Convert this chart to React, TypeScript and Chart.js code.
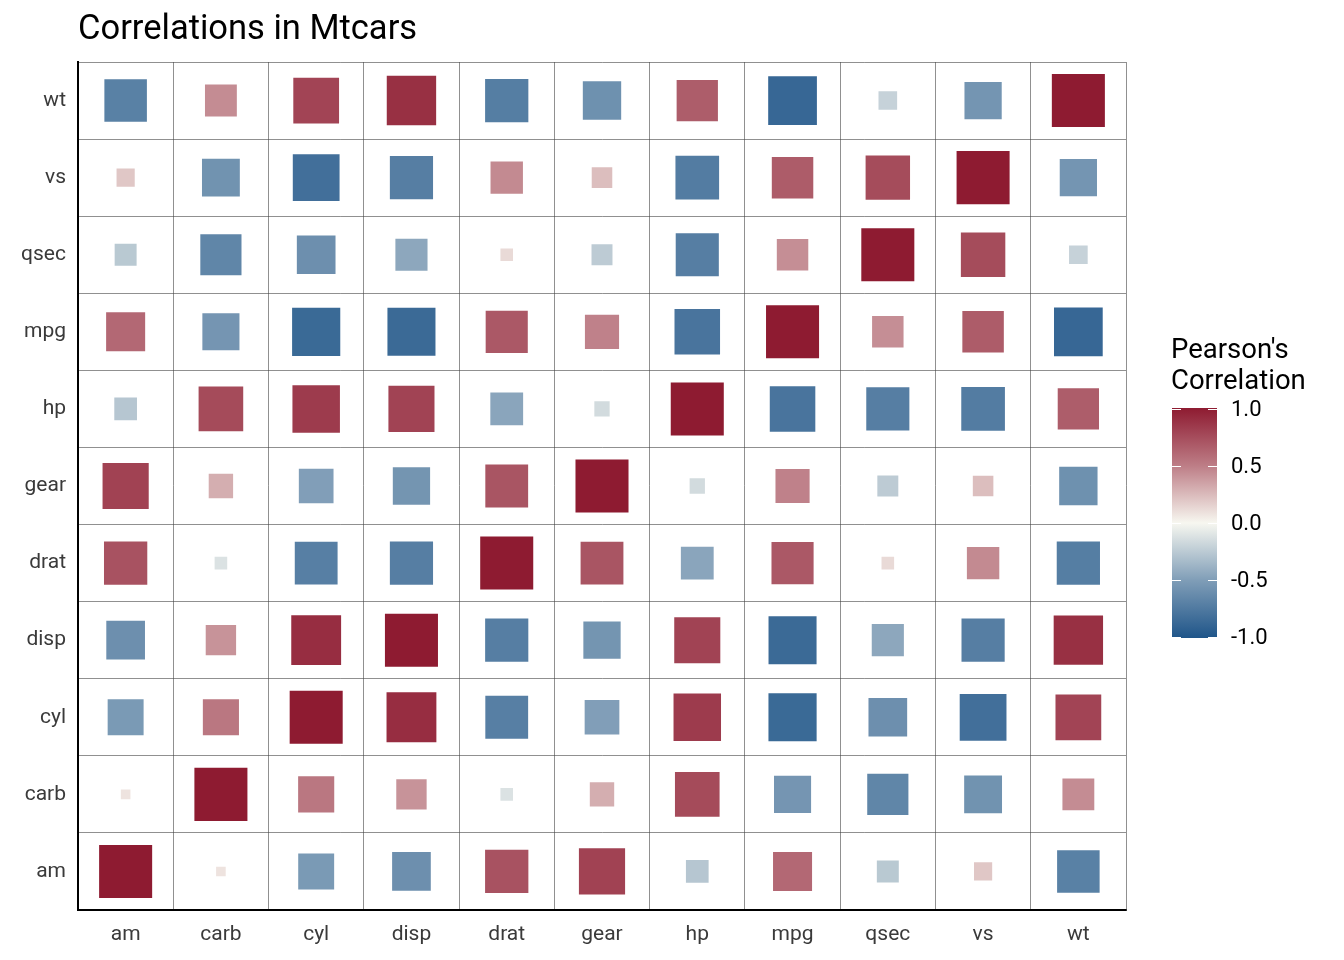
import React, { useEffect, useRef } from 'react';
import { Chart, registerables } from 'chart.js';

Chart.register(...registerables);

const vars = ['am', 'carb', 'cyl', 'disp', 'drat', 'gear', 'hp', 'mpg', 'qsec', 'vs', 'wt'];

// Pearson correlations, rows/cols in the order of `vars`
const corr: number[][] = [
  [1, 0.058, -0.523, -0.591, 0.713, 0.794, -0.243, 0.6, -0.23, 0.168, -0.692],
  [0.058, 1, 0.527, 0.395, -0.091, 0.274, 0.75, -0.551, -0.656, -0.57, 0.428],
  [-0.523, 0.527, 1, 0.902, -0.7, -0.493, 0.832, -0.852, -0.591, -0.811, 0.782],
  [-0.591, 0.395, 0.902, 1, -0.71, -0.556, 0.791, -0.848, -0.434, -0.71, 0.888],
  [0.713, -0.091, -0.7, -0.71, 1, 0.7, -0.449, 0.681, 0.091, 0.44, -0.712],
  [0.794, 0.274, -0.493, -0.556, 0.7, 1, -0.126, 0.48, -0.213, 0.206, -0.583],
  [-0.243, 0.75, 0.832, 0.791, -0.449, -0.126, 1, -0.776, -0.708, -0.723, 0.659],
  [0.6, -0.551, -0.852, -0.848, 0.681, 0.48, -0.776, 1, 0.419, 0.664, -0.868],
  [-0.23, -0.656, -0.591, -0.434, 0.091, -0.213, -0.708, 0.419, 1, 0.745, -0.175],
  [0.168, -0.57, -0.811, -0.71, 0.44, 0.206, -0.723, 0.664, 0.745, 1, -0.555],
  [-0.692, 0.428, 0.782, 0.888, -0.712, -0.583, 0.659, -0.868, -0.175, -0.555, 1],
];

const legendTicks = ['1.0', '0.5', '0.0', '-0.5', '-1.0'];

const LOW = [31, 85, 137];
const MID = [247, 247, 240];
const HIGH = [142, 27, 49];

function colorFor(r: number) {
  const t = Math.pow(Math.min(1, Math.abs(r)), 0.85);
  const end = r < 0 ? LOW : HIGH;
  const c = MID.map((m, i) => Math.round(m + (end[i] - m) * t));
  return `rgb(${c[0]},${c[1]},${c[2]})`;
}

const FONT = 'Roboto, "Noto Sans", sans-serif';

export default function App() {
  const canvasRef = useRef<HTMLCanvasElement | null>(null);

  useEffect(() => {
    const canvas = canvasRef.current;
    if (!canvas) return;
    const points: { x: string; y: string; r: number }[] = [];
    vars.forEach((xv, i) => vars.forEach((yv, j) => points.push({ x: xv, y: yv, r: corr[i][j] })));
    const chart = new Chart(canvas, {
      type: 'scatter',
      data: {
        datasets: [
          {
            data: points as any,
            pointStyle: 'rect',
            pointRadius: points.map((p) => 37.5 * Math.pow(Math.abs(p.r), 0.6)),
            pointBackgroundColor: points.map((p) => colorFor(p.r)),
            pointBorderWidth: 0,
          } as any,
        ],
      },
      options: {
        animation: false,
        responsive: false,
        layout: { padding: { top: 62, right: 218, left: 0, bottom: 0 } },
        plugins: { legend: { display: false }, tooltip: { enabled: false } },
        scales: {
          x: {
            type: 'category',
            labels: vars,
            offset: true,
            grid: { offset: true, color: '#444', lineWidth: 0.6, drawTicks: false },
            border: { display: true, color: '#000', width: 2 },
            ticks: { color: '#3a3a3a', font: { family: FONT, size: 21 }, padding: 12 },
            afterFit: (s: any) => { s.height = 50; },
          },
          y: {
            type: 'category',
            labels: [...vars].reverse(),
            offset: true,
            grid: { offset: true, color: '#444', lineWidth: 0.6, drawTicks: false },
            border: { display: true, color: '#000', width: 2 },
            ticks: { color: '#3a3a3a', font: { family: FONT, size: 21 }, padding: 12 },
            afterFit: (s: any) => { s.width = 78; },
          },
        },
      },
    });
    return () => chart.destroy();
  }, []);

  return (
    <div style={{ position: 'fixed', left: 0, top: 0, width: 1344, height: 960, background: '#fff', fontFamily: FONT }}>
      <canvas ref={canvasRef} width={1344} height={960} />
      <div style={{ position: 'absolute', left: 78, top: 7, fontSize: 34.5, color: '#000' }}>Correlations in Mtcars</div>
      <div style={{ position: 'absolute', left: 1171, top: 333, fontSize: 27.5, lineHeight: '31px', color: '#000' }}>
        Pearson's<br />Correlation
      </div>
      <div
        style={{
          position: 'absolute', left: 1172, top: 408, width: 45, height: 230,
          background: `linear-gradient(to bottom, ${colorFor(1)}, ${colorFor(0.5)}, ${colorFor(0)}, ${colorFor(-0.5)}, ${colorFor(-1)})`,
        }}
      />
      {legendTicks.map((t, i) => (
        <React.Fragment key={t}>
          <div style={{ position: 'absolute', left: 1172, top: 409 + i * 57 - 0.5, width: 9, height: 1, background: '#fff' }} />
          <div style={{ position: 'absolute', left: 1208, top: 409 + i * 57 - 0.5, width: 9, height: 1, background: '#fff' }} />
          <div style={{ position: 'absolute', left: 1231, top: 409 + i * 57 - 13, fontSize: 22, color: '#000' }}>{t}</div>
        </React.Fragment>
      ))}
    </div>
  );
}
